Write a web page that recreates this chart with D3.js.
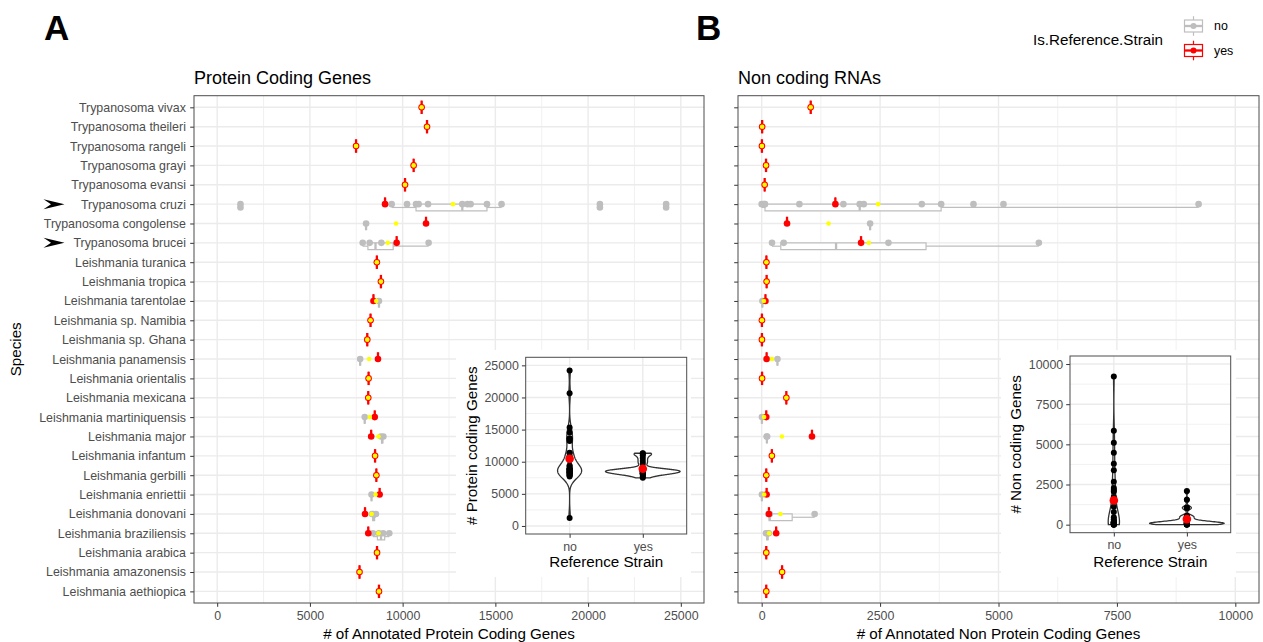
<!DOCTYPE html>
<html>
<head>
<meta charset="utf-8">
<script src="https://cdn.jsdelivr.net/npm/d3@7"></script>
<style>
body { margin: 0; background: #fff; }
svg { font-family: "Liberation Sans", Arial, sans-serif; display: block; }
</style>
</head>
<body>
<div id="wrapper"></div>
<script>
// species, top to bottom
const species = [
    "Trypanosoma vivax", "Trypanosoma theileri", "Trypanosoma rangeli", "Trypanosoma grayi",
    "Trypanosoma evansi", "Trypanosoma cruzi", "Trypanosoma congolense", "Trypanosoma brucei",
    "Leishmania turanica", "Leishmania tropica", "Leishmania tarentolae", "Leishmania sp. Namibia",
    "Leishmania sp. Ghana", "Leishmania panamensis", "Leishmania orientalis", "Leishmania mexicana",
    "Leishmania martiniquensis", "Leishmania major", "Leishmania infantum", "Leishmania gerbilli",
    "Leishmania enriettii", "Leishmania donovani", "Leishmania braziliensis", "Leishmania arabica",
    "Leishmania amazonensis", "Leishmania aethiopica"
];
const highlighted = ["Trypanosoma cruzi", "Trypanosoma brucei"];
const strains = ["no", "yes"];

// protein coding genes: reference strain (one per species) and other strains
const proteinYes = [11024, 11315, 7489, 10593, 10129, 9052, 11261, 9677, 8610, 8829, 8427, 8269, 8094,
    8671, 8164, 8147, 8496, 8304, 8514, 8584, 8759, 7972, 8147, 8619, 7675, 8724];
const proteinNo = [[], [], [], [], [],
    [1255, 9408, 10237, 10722, 10862, 11369, 13217, 13500, 13664, 14547, 15334, 20636, 24208],
    [8028], [7846, 8222, 8853, 11401], [], [], [8724], [], [], [7710], [], [], [7955],
    [8830, 8960], [], [], [8322], [8350, 8420, 8560], [8400, 8720, 8950, 9280], [], [], []];

// non coding RNAs
const ncrnaYes = [1035, 10, 5, 92, 63, 1556, 535, 2098, 100, 104, 80, 5, 5, 104, 8, 521, 97, 1062, 215,
    97, 104, 153, 306, 97, 431, 97];
const ncrnaNo = [[], [], [], [], [],
    [0, 30, 56, 70, 796, 1725, 2070, 2155, 3380, 3789, 4472, 5105, 9225],
    [2289], [218, 465, 2676, 5852], [], [], [15], [], [], [333], [], [], [5],
    [105, 115], [], [], [5], [146, 170, 1118], [90, 110, 130, 150], [], [], []];

const proteinTicks = [0, 5000, 10000, 15000, 20000, 25000];
const proteinMinor = [2500, 7500, 12500, 17500, 22500];
const ncrnaTicks = [0, 2500, 5000, 7500, 10000];
const ncrnaMinor = [1250, 3750, 6250, 8750];

const colNo = "#BEBEBE", colYes = "#FF0000", colMean = "#FFFF00";
const strainColor = d3.scaleOrdinal().domain(strains).range([colNo, colYes]);
const gridCol = "#EBEBEB", borderCol = "#4D4D4D", tickCol = "#333333", labelCol = "#4D4D4D";
const tickFont = "12.4px";

const svg = d3.select("#wrapper").append("svg")
    .attr("width", 1263)
    .attr("height", 642);

function boxStats(vals) {
    const s = vals.slice().sort(d3.ascending);
    const q1 = d3.quantile(s, 0.25), med = d3.quantile(s, 0.5), q3 = d3.quantile(s, 0.75);
    const iqr = q3 - q1;
    const inside = s.filter(v => v >= q1 - 1.5 * iqr && v <= q3 + 1.5 * iqr);
    return {q1, med, q3, lo: d3.min(inside), hi: d3.max(inside),
        out: s.filter(v => v < q1 - 1.5 * iqr || v > q3 + 1.5 * iqr)};
}

function drawBox(g, x, vals, y0, y1, color) {
    const st = boxStats(vals);
    const ym = (y0 + y1) / 2;
    g.append("line").attr("x1", x(st.lo)).attr("x2", x(st.q1)).attr("y1", ym).attr("y2", ym)
        .attr("stroke", color).attr("stroke-width", 1.2);
    g.append("line").attr("x1", x(st.q3)).attr("x2", x(st.hi)).attr("y1", ym).attr("y2", ym)
        .attr("stroke", color).attr("stroke-width", 1.2);
    g.append("path")
        .attr("d", `M${x(st.q1)},${y0}H${x(st.q3)}V${y1}H${x(st.q1)}Z`)
        .attr("fill", "white").attr("stroke", color).attr("stroke-width", 1.2);
    g.append("line").attr("x1", x(st.med)).attr("x2", x(st.med)).attr("y1", y0).attr("y2", y1)
        .attr("stroke", color).attr("stroke-width", 2.3);
    g.selectAll(null).data(st.out).join("circle")
        .attr("cx", d => x(d)).attr("cy", ym).attr("r", 3.3).attr("fill", color);
}

function styleAxis(a) {
    a.select(".domain").remove();
    a.selectAll(".tick line").attr("stroke", tickCol);
    a.selectAll(".tick text").attr("fill", labelCol).style("font-size", tickFont)
        .style("font-family", "'Liberation Sans', Arial, sans-serif");
}

function drawMain(o) {
    const g = svg.append("g");
    const x = d3.scaleLinear().domain(o.domain).range([o.left, o.right]);
    const y = d3.scalePoint().domain(species).range([o.top, o.bottom]).padding(0.6);
    const half = y.step() * 0.345;

    g.append("rect").attr("x", o.left).attr("y", o.top)
        .attr("width", o.right - o.left).attr("height", o.bottom - o.top).attr("fill", "white");
    g.selectAll(null).data(o.minor).join("line")
        .attr("x1", d => x(d)).attr("x2", d => x(d)).attr("y1", o.top).attr("y2", o.bottom)
        .attr("stroke", gridCol).attr("stroke-width", 0.7);
    g.selectAll(null).data(o.ticks).join("line")
        .attr("x1", d => x(d)).attr("x2", d => x(d)).attr("y1", o.top).attr("y2", o.bottom)
        .attr("stroke", gridCol).attr("stroke-width", 1.4);
    g.selectAll(null).data(species).join("line")
        .attr("x1", o.left).attr("x2", o.right).attr("y1", d => y(d)).attr("y2", d => y(d))
        .attr("stroke", gridCol).attr("stroke-width", 1.4);

    // boxplots, dodged when both strain groups exist
    const boxes = g.append("g");
    species.forEach((s, i) => {
        const cy = y(s);
        const no = o.noVals[i];
        if (no.length === 0) {
            drawBox(boxes, x, [o.yesVals[i]], cy - half, cy + half, colYes);
        } else {
            drawBox(boxes, x, no, cy, cy + half, colNo);
            drawBox(boxes, x, [o.yesVals[i]], cy - half, cy, colYes);
        }
    });

    // points
    const pts = [];
    species.forEach((s, i) => {
        o.noVals[i].forEach(v => pts.push({s, v, strain: "no"}));
        pts.push({s, v: o.yesVals[i], strain: "yes"});
    });
    g.append("g").selectAll("circle").data(pts).join("circle")
        .attr("cx", d => x(d.v)).attr("cy", d => y(d.s)).attr("r", 3.3)
        .attr("fill", d => strainColor(d.strain));

    // species mean
    const means = species.map((s, i) => ({s, v: d3.mean(o.noVals[i].concat([o.yesVals[i]]))}));
    g.append("g").selectAll("circle").data(means).join("circle")
        .attr("cx", d => x(d.v)).attr("cy", d => y(d.s)).attr("r", 2.3).attr("fill", colMean);

    // axes
    const xa = g.append("g").attr("transform", `translate(0,${o.bottom})`)
        .call(d3.axisBottom(x).tickValues(o.ticks).tickFormat(d3.format("d"))
            .tickSize(3.8).tickPadding(4));
    const ya = g.append("g").attr("transform", `translate(${o.left},0)`)
        .call(d3.axisLeft(y).tickSize(3.8).tickPadding(4.3)
            .tickFormat(o.showLabels ? (d => d) : (() => "")));
    styleAxis(xa);
    styleAxis(ya);

    g.append("rect").attr("x", o.left).attr("y", o.top)
        .attr("width", o.right - o.left).attr("height", o.bottom - o.top)
        .attr("fill", "none").attr("stroke", borderCol).attr("stroke-width", 1);

    g.append("text").attr("x", o.left).attr("y", 83.5).style("font-size", "18px").text(o.title);
    g.append("text").attr("x", (o.left + o.right) / 2).attr("y", 638.5)
        .attr("text-anchor", "middle").style("font-size", "15.2px").text(o.xTitle);
    g.append("text").attr("x", o.tagX).attr("y", 40).style("font-size", "35px")
        .style("font-weight", "bold").text(o.tag);

    if (o.showLabels) {
        g.append("text").attr("transform", `translate(21.4,${(o.top + o.bottom) / 2}) rotate(-90)`)
            .attr("text-anchor", "middle").style("font-size", "15.2px").text("Species");
        g.selectAll(null).data(highlighted).join("path")
            .attr("d", d => `M43.5,${y(d) - 5}L64.5,${y(d)}L43.5,${y(d) + 5}L51,${y(d)}Z`)
            .attr("fill", "black");
    }
}

// gaussian kernel density, Silverman bandwidth, trimmed to the data range
function kde(values, n) {
    const s = values.slice().sort(d3.ascending);
    const sd = d3.deviation(s);
    const iqr = d3.quantile(s, 0.75) - d3.quantile(s, 0.25);
    const lo = Math.min(sd, iqr / 1.34) || sd;
    const bw = 0.9 * lo * Math.pow(s.length, -0.2);
    const [a, b] = d3.extent(s);
    return d3.range(n + 1).map(k => {
        const t = a + (b - a) * k / n;
        const dens = d3.mean(s, v => Math.exp(-0.5 * ((t - v) / bw) ** 2)) / (bw * Math.sqrt(2 * Math.PI));
        return [t, dens];
    });
}

function drawInset(o) {
    const g = svg.append("g");
    g.append("rect").attr("x", o.bgLeft).attr("y", 350).attr("width", 235).attr("height", 227)
        .attr("fill", "white");
    const x = d3.scalePoint().domain(strains).range([o.left, o.right]).padding(0.6);
    const y = d3.scaleLinear().domain(o.domain).range([o.bottom, o.top]);

    g.selectAll(null).data(o.minor).join("line")
        .attr("x1", o.left).attr("x2", o.right).attr("y1", d => y(d)).attr("y2", d => y(d))
        .attr("stroke", gridCol).attr("stroke-width", 0.7);
    g.selectAll(null).data(o.ticks).join("line")
        .attr("x1", o.left).attr("x2", o.right).attr("y1", d => y(d)).attr("y2", d => y(d))
        .attr("stroke", gridCol).attr("stroke-width", 1.4);
    g.selectAll(null).data(strains).join("line")
        .attr("x1", d => x(d)).attr("x2", d => x(d)).attr("y1", o.top).attr("y2", o.bottom)
        .attr("stroke", gridCol).attr("stroke-width", 1.4);

    const groups = [
        {strain: "no", vals: o.noVals.flat()},
        {strain: "yes", vals: o.yesVals}
    ];
    groups.forEach(gr => { gr.dens = kde(gr.vals, 200); });
    const maxD = d3.max(groups, gr => d3.max(gr.dens, d => d[1]));
    const halfW = x.step() * 0.51;

    groups.forEach(gr => {
        const cx = x(gr.strain);
        const area = d3.area()
            .y(d => y(d[0]))
            .x0(d => cx - d[1] / maxD * halfW)
            .x1(d => cx + d[1] / maxD * halfW);
        g.append("path").attr("d", area(gr.dens))
            .attr("fill", "white").attr("stroke", "#333").attr("stroke-width", 1.3);
    });
    groups.forEach(gr => {
        g.append("g").selectAll("circle").data(gr.vals).join("circle")
            .attr("cx", x(gr.strain)).attr("cy", d => y(d)).attr("r", 3).attr("fill", "black");
    });
    g.append("g").selectAll("circle").data(groups).join("circle")
        .attr("cx", d => x(d.strain)).attr("cy", d => y(d3.mean(d.vals))).attr("r", 4.3)
        .attr("fill", colYes);

    const xa = g.append("g").attr("transform", `translate(0,${o.bottom})`)
        .call(d3.axisBottom(x).tickSize(3.8).tickPadding(4));
    const ya = g.append("g").attr("transform", `translate(${o.left},0)`)
        .call(d3.axisLeft(y).tickValues(o.ticks).tickFormat(d3.format("d"))
            .tickSize(3.8).tickPadding(3));
    styleAxis(xa);
    styleAxis(ya);
    g.append("rect").attr("x", o.left).attr("y", o.top)
        .attr("width", o.right - o.left).attr("height", o.bottom - o.top)
        .attr("fill", "none").attr("stroke", borderCol).attr("stroke-width", 1);

    g.append("text").attr("x", (o.left + o.right) / 2).attr("y", 567)
        .attr("text-anchor", "middle").style("font-size", "15.2px").text("Reference Strain");
    g.append("text")
        .attr("transform", `translate(${o.left - 48.7},${(o.top + o.bottom) / 2}) rotate(-90)`)
        .attr("text-anchor", "middle").style("font-size", "15.2px").text(o.yTitle);
}

drawMain({left: 194, right: 704, top: 95.7, bottom: 603, domain: [-1250, 26250],
    ticks: proteinTicks, minor: proteinMinor, yesVals: proteinYes, noVals: proteinNo,
    title: "Protein Coding Genes", xTitle: "# of Annotated Protein Coding Genes",
    showLabels: true, tag: "A", tagX: 44});
drawMain({left: 738, right: 1259, top: 95.7, bottom: 603, domain: [-500, 10500],
    ticks: ncrnaTicks, minor: ncrnaMinor, yesVals: ncrnaYes, noVals: ncrnaNo,
    title: "Non coding RNAs", xTitle: "# of Annotated Non Protein Coding Genes",
    showLabels: false, tag: "B", tagX: 696});

drawInset({bgLeft: 456, left: 525.7, right: 686.7, top: 357.3, bottom: 534, domain: [-1250, 26250],
    ticks: proteinTicks, minor: proteinMinor, yesVals: proteinYes, noVals: proteinNo,
    yTitle: "# Protein coding Genes"});
drawInset({bgLeft: 1001, left: 1070, right: 1230.7, top: 356, bottom: 532.7, domain: [-500, 10500],
    ticks: ncrnaTicks, minor: ncrnaMinor, yesVals: ncrnaYes, noVals: ncrnaNo,
    yTitle: "# Non coding Genes"});

// legend
const legend = svg.append("g");
legend.append("text").attr("x", 1033).attr("y", 44.8).style("font-size", "15.2px")
    .text("Is.Reference.Strain");
const keyY = d3.scalePoint().domain(strains).range([26, 50.5]);
const keys = legend.selectAll("g.key").data(strains).join("g").attr("class", "key")
    .attr("transform", d => `translate(1193.5,${keyY(d)})`);
keys.append("line").attr("y1", -9.8).attr("y2", 9.8).attr("stroke", d => strainColor(d))
    .attr("stroke-width", 1.2);
keys.append("rect").attr("x", -9).attr("y", -6).attr("width", 18).attr("height", 12)
    .attr("fill", "white").attr("stroke", d => strainColor(d)).attr("stroke-width", 1.2);
keys.append("line").attr("x1", -9).attr("x2", 9).attr("stroke", d => strainColor(d))
    .attr("stroke-width", 2.3);
keys.append("circle").attr("r", 3).attr("fill", d => strainColor(d));
keys.append("text").attr("x", 20.5).attr("y", 4.3).style("font-size", tickFont).text(d => d);
</script>
</body>
</html>
